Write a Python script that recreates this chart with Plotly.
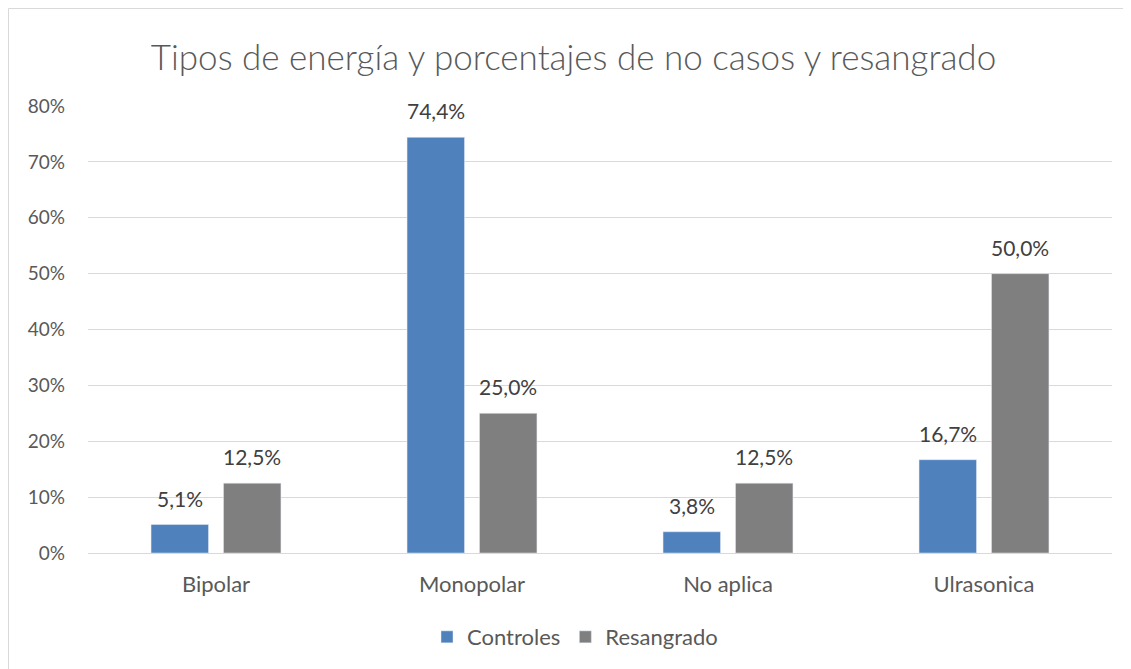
import plotly.graph_objects as go

# Data
categories = ["Bipolar", "Monopolar", "No aplica", "Ulrasonica"]
controles = [5.1, 74.4, 3.8, 16.7]
resangrado = [12.5, 25.0, 12.5, 50.0]
y_ticks = [0, 10, 20, 30, 40, 50, 60, 70, 80]


def pct_labels(vals):
    return [f"{v:.1f}%".replace(".", ",") for v in vals]


font_family = "Lato, Carlito, Calibri, sans-serif"
label_color = "#404040"
axis_color = "#595959"

fig = go.Figure()

fig.add_trace(go.Bar(
    x=categories, y=controles, name="Controles",
    marker_color="#4f81bd",
))
fig.add_trace(go.Bar(
    x=categories, y=resangrado, name="Resangrado",
    marker_color="#7f7f7f",
))

# Data labels above the bars (half a bar slot to each side of the category).
slot_px = 72.5
for series, shift in [(controles, -slot_px / 2), (resangrado, slot_px / 2)]:
    for cat, val, lab in zip(categories, series, pct_labels(series)):
        fig.add_annotation(
            x=cat, y=val, text=lab, showarrow=False,
            xshift=shift, yshift=12, yanchor="bottom",
            font=dict(size=21, color=label_color, family=font_family),
        )

fig.update_layout(
    width=1131, height=669,
    margin=dict(l=80, r=27, t=98, b=124),
    paper_bgcolor="white", plot_bgcolor="white",
    font=dict(family=font_family, color=axis_color, size=18),
    title=dict(
        text="Tipos de energía y porcentajes de no casos y resangrado",
        x=0.5, xanchor="center", y=0.925, yanchor="middle",
        font=dict(size=35, color=axis_color, family=font_family, weight=300),
    ),
    barmode="group", bargap=0.434, bargroupgap=0.207,
    legend=dict(
        orientation="h", x=0.4756, xanchor="center", y=-0.188, yanchor="middle",
        font=dict(size=22, color=axis_color),
    ),
    showlegend=True,
)

fig.update_yaxes(
    range=[0, 80], tickvals=y_ticks, ticktext=[f"{t}%" for t in y_ticks],
    showgrid=True, gridcolor="#d9d9d9", gridwidth=1,
    zeroline=True, zerolinecolor="#d9d9d9", zerolinewidth=1,
    ticklabelstandoff=22, showline=False,
    tickfont=dict(size=19, color=axis_color),
)
fig.update_xaxes(
    showline=False, ticks="", ticklabelstandoff=16,
    tickfont=dict(size=22, color=axis_color),
)

# chart area border: only top and left edges are visible in the crop
border_left = -79.5 / 1024
border_top = 1 + 97.5 / 447
fig.add_shape(
    type="line", xref="paper", yref="paper",
    x0=border_left, x1=1.1, y0=border_top, y1=border_top,
    line=dict(color="#d9d9d9", width=1), layer="below",
)
fig.add_shape(
    type="line", xref="paper", yref="paper",
    x0=border_left, x1=border_left, y0=-0.5, y1=border_top,
    line=dict(color="#d9d9d9", width=1), layer="below",
)

fig.write_html("out.html")
